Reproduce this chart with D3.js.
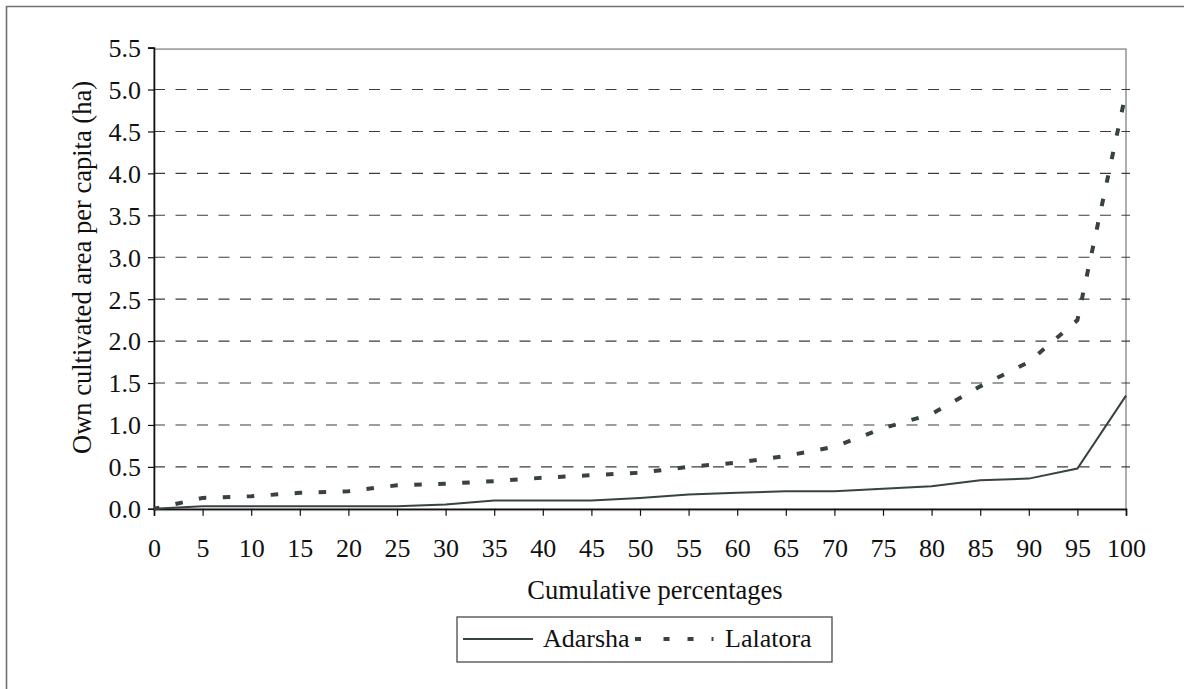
<!DOCTYPE html>
<html>
<head>
<meta charset="utf-8">
<script src="https://cdn.jsdelivr.net/npm/d3@7"></script>
<style>
  html, body { margin: 0; padding: 0; background: #fff; }
  svg { display: block; }
  text { font-family: "Liberation Serif", "Times New Roman", Times, serif; fill: #111; }
</style>
</head>
<body>
<svg id="chart" width="1184" height="689"></svg>
<script>
// ---- data ----
const categories = [0, 5, 10, 15, 20, 25, 30, 35, 40, 45, 50, 55, 60, 65, 70, 75, 80, 85, 90, 95, 100];
const adarsha  = [0, 0.03, 0.03, 0.03, 0.03, 0.03, 0.05, 0.10, 0.10, 0.10, 0.13, 0.17, 0.19, 0.21, 0.21, 0.24, 0.27, 0.34, 0.36, 0.48, 1.35];
const lalatora = [0, 0.13, 0.15, 0.19, 0.21, 0.28, 0.30, 0.33, 0.37, 0.40, 0.43, 0.50, 0.55, 0.63, 0.74, 0.96, 1.13, 1.46, 1.75, 2.25, 4.97];
const yTicks = [0, 0.5, 1.0, 1.5, 2.0, 2.5, 3.0, 3.5, 4.0, 4.5, 5.0, 5.5];
const seriesNames = ["Adarsha", "Lalatora"];
const xTitle = "Cumulative percentages";
const yTitle = "Own cultivated area per capita (ha)";

const svg = d3.select("#chart");
const W = 1184, H = 689;
const L = 154, R = 1126, T = 47.6, B = 508.8;
const x = d3.scaleLinear().domain([0, 100]).range([L, R]);
const y = d3.scaleLinear().domain([0, 5.5]).range([B, T]);
const lineColor = "#384244";
const serif = "Liberation Serif, Times New Roman, Times, serif";

// outer frame (only top and left visible)
svg.append("path")
  .attr("d", `M6.5,${H} L6.5,6.5 L${W},6.5`)
  .attr("fill", "none").attr("stroke", "#6f6f6f").attr("stroke-width", 1.6);

// plot area border (gray)
svg.append("rect")
  .attr("x", L).attr("y", y(5.5) + 1.5)
  .attr("width", R - L).attr("height", B + 1.5 - (y(5.5) + 1.5))
  .attr("fill", "none").attr("stroke", "#9a9a9a").attr("stroke-width", 1.6);

// gridlines
svg.append("g").selectAll("line")
  .data(yTicks.filter(v => v > 0 && v < 5.5))
  .join("line")
  .attr("x1", L).attr("x2", R + 4)
  .attr("y1", d => y(d)).attr("y2", d => y(d))
  .attr("stroke", "#3c3c3c").attr("stroke-width", 1.1)
  .attr("stroke-dasharray", "11,10.5");

// y axis
const yAxis = d3.axisLeft(y).tickValues(yTicks).tickFormat(d3.format(".1f")).tickSize(6).tickPadding(7);
const gy = svg.append("g").attr("transform", `translate(${L},0)`).call(yAxis)
  .attr("font-family", serif).attr("font-size", 26);
gy.select(".domain").attr("stroke", "#111").attr("stroke-width", 1.6);
gy.selectAll(".tick line").attr("stroke", "#111").attr("stroke-width", 1.2);
gy.selectAll(".tick text").attr("fill", "#111").attr("dy", "0.34em");

// x axis
const xAxis = d3.axisBottom(x).tickValues(categories).tickFormat(d3.format("d")).tickSize(7).tickPadding(23);
const gx = svg.append("g").attr("transform", `translate(0,${B})`).call(xAxis)
  .attr("font-family", serif).attr("font-size", 26);
gx.select(".domain").attr("stroke", "#111").attr("stroke-width", 1.6);
gx.selectAll(".tick line").attr("stroke", "#111").attr("stroke-width", 1.2);
gx.selectAll(".tick text").attr("fill", "#111");

// lines
const line = d3.line().x((d, i) => x(categories[i])).y(d => y(d));
svg.append("path").datum(adarsha)
  .attr("d", line).attr("fill", "none")
  .attr("stroke", lineColor).attr("stroke-width", 2);
svg.append("path").datum(lalatora)
  .attr("d", line).attr("fill", "none")
  .attr("stroke", lineColor).attr("stroke-width", 4)
  .attr("stroke-dasharray", "7.5,16.5").attr("stroke-dashoffset", 2);

// axis titles
svg.append("text")
  .attr("x", 655).attr("y", 599)
  .attr("text-anchor", "middle").attr("font-size", 26.5)
  .text(xTitle);
svg.append("text")
  .attr("transform", `translate(91,${(82 + 453) / 2}) rotate(-90)`)
  .attr("text-anchor", "middle").attr("font-size", 26.5)
  .text(yTitle);

// legend
const lg = svg.append("g");
lg.append("rect")
  .attr("x", 457).attr("y", 617).attr("width", 375).attr("height", 45)
  .attr("fill", "#fff").attr("stroke", "#4a4a4a").attr("stroke-width", 1.3);
lg.append("line")
  .attr("x1", 463).attr("x2", 533).attr("y1", 639).attr("y2", 639)
  .attr("stroke", lineColor).attr("stroke-width", 2);
lg.append("text").attr("x", 543).attr("y", 647).attr("font-size", 26).text(seriesNames[0]);
lg.append("line")
  .attr("x1", 635).attr("x2", 713.5).attr("y1", 639).attr("y2", 639)
  .attr("stroke", lineColor).attr("stroke-width", 4)
  .attr("stroke-dasharray", "6,22.5,6,18,6,18,2,100");
lg.append("text").attr("x", 725).attr("y", 647).attr("font-size", 26).text(seriesNames[1]);
</script>
</body>
</html>
